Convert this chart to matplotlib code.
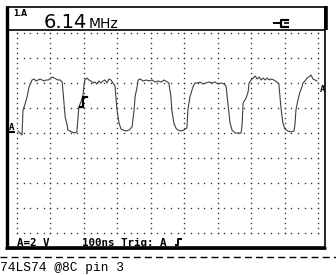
"""ScopeMeter screen capture: 74LS74 @8C pin 3, 6.14 MHz square-ish wave."""

import matplotlib

matplotlib.use("Agg")
import matplotlib.pyplot as plt
import numpy as np
from matplotlib.lines import Line2D
from matplotlib.patches import Rectangle

# ============================ DATA ============================
# trace: time (ns after left edge), volts (2 V/div)
TIME_NS = [
    3, 9, 15, 18, 24, 30, 36, 45, 51, 57, 63, 69, 75, 81, 87, 93, 99, 105,
    111, 117, 123, 129, 135, 138, 144, 150, 152, 158, 164, 173, 179, 182,
    185, 191, 197, 200, 203, 209, 215, 221, 227, 233, 239, 245, 251, 257,
    263, 269, 275, 281, 287, 293, 299, 305, 311, 317, 326, 335, 344, 347,
    350, 353, 359, 362, 368, 377, 386, 395, 404, 413, 422, 431, 440, 449,
    454, 460, 463, 469, 475, 481, 490, 499, 508, 511, 517, 526, 532, 541,
    547, 556, 565, 574, 583, 592, 601, 610, 619, 625, 631, 634, 637, 643,
    652, 661, 670, 673, 676, 685, 691, 694, 700, 706, 712, 718, 724, 730,
    736, 742, 748, 754, 759, 768, 777, 783, 789, 795, 801, 810, 819, 828,
    831, 834, 840, 846, 852, 855, 861, 867, 873, 879, 885, 891, 897,
]
VOLTS = [
    0.00, -0.16, -0.32, 1.68, 2.16, 2.72, 3.52, 4.08, 4.16, 4.00, 4.08,
    4.16, 4.08, 4.00, 4.08, 4.08, 4.16, 4.32, 4.24, 4.16, 4.08, 4.08,
    3.92, 3.04, 1.12, 0.48, 0.08, 0.00, -0.08, -0.16, -0.08, 0.88, 1.92,
    2.32, 2.80, 3.60, 4.08, 4.24, 4.08, 4.00, 3.84, 3.92, 3.76, 4.00,
    3.84, 4.00, 4.08, 3.84, 4.16, 4.08, 3.84, 3.60, 1.68, 0.64, 0.16,
    0.08, 0.00, 0.08, 0.32, 1.04, 1.68, 2.72, 3.52, 4.08, 4.16, 4.00,
    4.08, 4.00, 4.08, 3.92, 4.00, 3.92, 4.08, 3.92, 3.84, 2.80, 1.68,
    0.64, 0.24, 0.08, 0.00, 0.08, 0.24, 1.68, 2.72, 3.52, 3.84, 3.84,
    3.92, 3.76, 3.84, 3.92, 3.84, 3.92, 3.76, 3.84, 3.76, 3.60, 2.08,
    1.28, 0.64, 0.08, -0.16, -0.16, -0.16, 0.48, 2.24, 2.64, 3.12, 3.84,
    4.08, 4.24, 4.40, 4.16, 4.32, 4.08, 4.24, 4.08, 4.24, 4.08, 4.16,
    4.08, 3.92, 3.76, 1.92, 0.64, 0.16, 0.00, -0.08, 0.00, 0.48, 1.68,
    2.48, 3.12, 3.52, 3.84, 4.00, 4.24, 4.32, 4.48, 4.16, 4.08, 4.00,
]

FREQ_MAIN = "6.14"
FREQ_UNIT = "MHz"
CHANNEL_LABEL = "1.A"
RANGE_TEXT = "A=2 V"
TIMEBASE_TEXT = "100ns Trig: A"
CAPTION = "74LS74 @8C pin 3"

NS_PER_DIV = 100
V_PER_DIV = 2
N_XDIV = 9
Y_TOP = 7.84  # volts at top graticule line (ground sits ~4 div down)
N_YDIV = 8
TRIG_NS = 200
TRIG_V = 2.4
# ===============================================================

W, H = 336, 275
fig = plt.figure(figsize=(W / 100, H / 100), dpi=100)
fig.patch.set_facecolor("white")


def fx(x):
    return x / W


def fy(y):
    return 1 - y / H


def fline(xs, ys, lw=1.0, color="black", **kw):
    fig.add_artist(
        Line2D([fx(x) for x in xs], [fy(y) for y in ys], lw=lw, color=color,
               transform=fig.transFigure, solid_capstyle="butt", **kw)
    )


# --- graticule axes ---
ax = fig.add_axes([fx(17), fy(233), fx(318) - fx(17), fy(33) - fy(233)])
x_lo, x_hi = 0, N_XDIV * NS_PER_DIV
y_hi = Y_TOP
y_lo = Y_TOP - N_YDIV * V_PER_DIV
ax.set_xlim(x_lo, x_hi)
ax.set_ylim(y_lo, y_hi)
ax.axis("off")

dot_kw = dict(ls="none", marker="s", ms=0.95, mew=0, color="#2e2e2e")
xs_minor = np.arange(x_lo, x_hi + 1e-6, NS_PER_DIV / 5)
ys_minor = np.arange(y_lo, y_hi + 1e-6, V_PER_DIV / 5)
for k in range(N_YDIV + 1):
    yv = y_lo + k * V_PER_DIV
    ax.plot(xs_minor, np.full_like(xs_minor, yv), clip_on=False, **dot_kw)
for k in range(N_XDIV + 1):
    xv = x_lo + k * NS_PER_DIV
    ax.plot(np.full_like(ys_minor, xv), ys_minor, clip_on=False, **dot_kw)

ax.plot(TIME_NS, VOLTS, color="#404040", lw=0.8, clip_on=False)

# trigger mark (rising edge glyph) on the trace
dt, dv = 12, 0.45
ax.plot([TRIG_NS - dt, TRIG_NS - 2, TRIG_NS - 2, TRIG_NS + 10],
        [TRIG_V - dv, TRIG_V - dv, TRIG_V + 0.35, TRIG_V + 0.35],
        color="black", lw=1.6, solid_joinstyle="miter", clip_on=False)

# --- screen frame ---
fig.add_artist(Rectangle((fx(7), fy(247)), fx(325) - fx(7), fy(7) - fy(247),
                         transform=fig.transFigure, fill=False, lw=1.2,
                         ec="black"))
fline([6.5, 6.5], [6, 249], lw=2.4)
fline([5, 326], [248, 248], lw=2.0)
fline([7, 325], [30, 30], lw=1.2)
fline([325.5, 325.5], [6, 30], lw=2.6)

# header
fig.text(fx(13), fy(16), CHANNEL_LABEL, fontsize=5.5, fontweight="bold",
         family="DejaVu Sans")
fig.text(fx(44), fy(27.5), FREQ_MAIN, fontsize=14, family="DejaVu Sans")
fig.text(fx(89), fy(27.5), FREQ_UNIT, fontsize=10, family="DejaVu Sans")

# plug icon
fline([273, 280], [23, 23], lw=1.4)
fline([289, 281, 281, 289], [19.5, 19.5, 26.5, 26.5], lw=1.6)
fline([284, 289], [23, 23], lw=1.2)

# channel markers
fig.text(fx(9), fy(130), "A", fontsize=6.5, fontweight="bold",
         family="DejaVu Sans Mono")
fline([8, 15], [132, 132], lw=1.6)
fig.text(fx(320), fy(92), "A", fontsize=6.5, fontweight="bold",
         family="DejaVu Sans Mono")

# bottom status line
mono_bold = dict(fontsize=7.8, fontweight="bold", family="DejaVu Sans Mono")
fig.text(fx(17), fy(245.5), RANGE_TEXT, **mono_bold)
fig.text(fx(82), fy(245.5), TIMEBASE_TEXT, **mono_bold)
fline([175, 178, 178, 182], [245, 245, 238.5, 238.5], lw=1.4)

# dashed separator and caption
fline([0, W], [256.5, 256.5], lw=1.0, ls=(0, (5, 3)))
fig.text(fx(0), fy(271.5), CAPTION, fontsize=9.3, family="Liberation Mono")

fig.savefig("out.png", dpi=100, facecolor="white")
